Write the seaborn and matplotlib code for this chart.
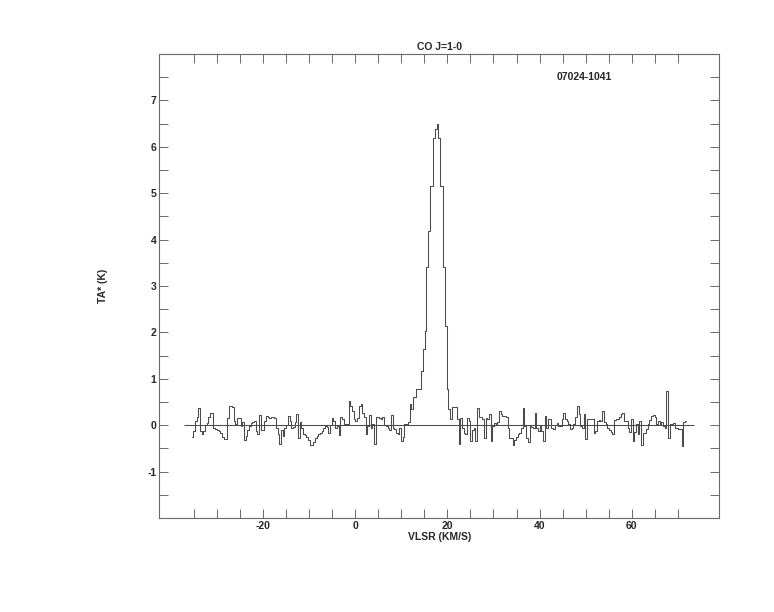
import numpy as np
import pandas as pd
import matplotlib
matplotlib.use("Agg")
import matplotlib.pyplot as plt
import seaborn as sns

# antenna temperature TA* (K), channel by channel
ta_wing_far = [-0.25, -0.12, 0.08, 0.17, 0.36, -0.12, -0.18, -0.12, 0.0, 0.04,
               0.18, 0.27, 0.27, -0.05, -0.09, -0.1, -0.12, -0.16, -0.25, -0.3,
               -0.3, 0.15, 0.42, 0.42, 0.4, 0.1, 0.02, 0.15, 0.15, -0.01,
               0.06, -0.32, -0.23, -0.1, -0.01, 0.04, 0.06, 0.1, -0.12, -0.19,
               0.22, -0.11, -0.11, 0.1, 0.2, 0.18, 0.15]
ta_wing_near = [0.17, 0.17, 0.15, -0.05, -0.18, -0.4, -0.11, -0.23, -0.05, 0.0,
                0.2, 0.09, -0.05, -0.04, 0.06, 0.24, -0.27, 0.06, -0.05, -0.18,
                -0.21, -0.25, -0.32, -0.42, -0.42, -0.37, -0.27, -0.23, -0.18, -0.16,
                -0.12, -0.05, -0.01, -0.04, -0.16, 0.0, 0.15, 0.09, -0.05, -0.01,
                -0.21, 0.17, 0.13, 0.02, 0.02, 0.02, 0.52, 0.42, 0.31, 0.13, 0.09]
ta_pre_line = [0.15, 0.42, 0.45, 0.27, 0.17, -0.18, -0.01, 0.22, -0.05, 0.02,
               -0.4, 0.18, 0.18, 0.15, 0.13, 0.17, 0.01, -0.01, -0.05, -0.11,
               0.22, -0.05, -0.09, -0.16, -0.18, -0.05, -0.34, -0.25, 0.02, 0.02, 0.06]
ta_line = [0.45, 0.35, 0.6, 0.6, 0.78, 0.78, 0.78, 1.17, 1.64, 2.03,
           3.4, 4.19, 5.16, 5.16, 6.18, 6.39, 6.5, 6.18, 5.16, 5.16,
           3.41, 2.14, 0.78]
ta_post_line = [0.35, 0.13, 0.4, 0.4, 0.4, 0.13, -0.4, 0.15, -0.05, -0.16,
                -0.18, 0.15, 0.08, -0.34, -0.11, -0.05, -0.34, 0.38, 0.17, 0.17,
                0.13, -0.27, 0.15, 0.13, 0.24, -0.34, -0.01, 0.04, 0.02, 0.06,
                0.3, 0.25, 0.2, 0.2, 0.17, -0.05, -0.27, -0.27, -0.42, -0.32,
                -0.25, -0.19, -0.16, -0.05, 0.38, -0.01, -0.27, -0.37]
ta_red_mid = [-0.01, -0.04, -0.05, 0.27, -0.05, -0.12, -0.01, -0.12, -0.34, 0.2,
              -0.05, 0.13, 0.13, -0.05, -0.09, 0.0, 0.04, -0.01, -0.01, 0.13,
              0.27, 0.13, 0.09, 0.02, -0.09, -0.05, 0.02, 0.18, 0.42, 0.24,
              -0.01, -0.05, 0.24, -0.3, 0.13, 0.13, 0.13, 0.13, -0.16, -0.12,
              0.09, 0.11, 0.09, 0.3, 0.06, 0.02, -0.05, -0.11, -0.14, -0.18]
ta_red_far = [0.11, 0.13, 0.13, 0.18, 0.25, 0.27, 0.09, 0.09, -0.05, -0.14,
              0.13, -0.35, -0.14, 0.02, -0.18, 0.09, -0.43, -0.16, -0.16, -0.09,
              0.02, 0.11, 0.2, 0.22, 0.17, 0.02, 0.09, 0.02, 0.06, -0.01,
              -0.05, 0.73, -0.28, 0.02, 0.02, 0.04, -0.05, -0.06, -0.09, -0.09,
              -0.45, 0.06, 0.09]

v_first = -35.36   # km/s, centre of first channel
dv = 0.3668        # km/s per channel

x_ticks = np.arange(-35, 71, 5)
x_labels = [str(t) if t % 20 == 0 else "" for t in x_ticks]
y_ticks = np.arange(-1.5, 7.6, 0.5)
y_labels = [str(int(t)) if t == int(t) else "" for t in y_ticks]

ta = np.concatenate([ta_wing_far, ta_wing_near, ta_pre_line, ta_line,
                     ta_post_line, ta_red_mid, ta_red_far])
vlsr = v_first + dv * np.arange(len(ta))
df = pd.DataFrame({"VLSR": vlsr, "TA": ta})

sns.set_style("ticks")
plt.rcParams["font.family"] = ["Liberation Sans", "DejaVu Sans"]

fig = plt.figure(figsize=(7.74, 6.12), dpi=100)
ax = fig.add_axes([0.2058, 0.1536, 0.7231, 0.7582])

# spectrum as a histogram-style step line
sns.lineplot(data=df, x="VLSR", y="TA", ax=ax, drawstyle="steps-mid",
             color="#4a4a4a", linewidth=0.75, estimator=None)
ax.hlines(0, vlsr[0] - 1.8, vlsr[-1] + 1.8, color="#4a4a4a", linewidth=0.75)

ax.set_xlim(-42.54, 78.94)
ax.set_ylim(-2, 8)

ax.set_xticks(x_ticks)
ax.set_xticklabels(x_labels)
ax.set_yticks(y_ticks)
ax.set_yticklabels(y_labels)
ax.tick_params(direction="in", length=6.8, width=0.7, color="#6a6a6a",
               top=True, right=True, labelsize=7.5, pad=2)
for lab in ax.get_xticklabels() + ax.get_yticklabels():
    lab.set_fontweight("bold")
for sp in ax.spines.values():
    sp.set_visible(True)
    sp.set_color("#6a6a6a")
    sp.set_linewidth(0.8)

ax.set_title("CO J=1-0", fontsize=7.5, fontweight="bold", pad=3)
ax.set_xlabel("VLSR (KM/S)", fontsize=7.5, fontweight="bold", labelpad=1)
ax.set_ylabel("TA* (K)", fontsize=7.5, fontweight="bold", va="center")
ax.yaxis.set_label_coords(-0.1, 0.5)
ax.text(0.76, 0.95, "07024-1041", transform=ax.transAxes, fontsize=7.5,
        fontweight="bold", ha="center", va="center")

fig.savefig("out.png", dpi=100)
